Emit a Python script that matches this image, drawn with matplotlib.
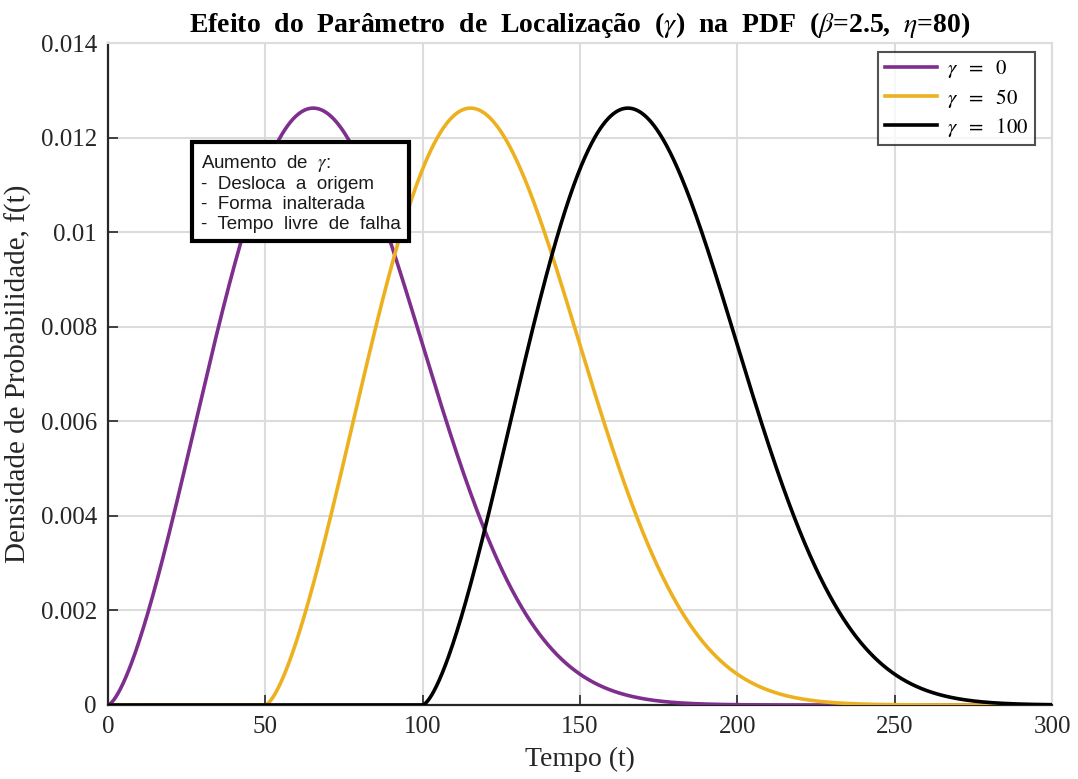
import numpy as np
import matplotlib
matplotlib.use("Agg")
import matplotlib.pyplot as plt

# Weibull parameters
beta = 2.5
eta = 80
gammas = [0, 50, 100]
colors = ['#7E2F8E', '#EDB120', '#000000']

t = np.linspace(0, 300, 3001)


def weibull_pdf(t, beta, eta, gamma):
    f = np.zeros_like(t)
    m = t >= gamma
    z = (t[m] - gamma) / eta
    f[m] = (beta / eta) * z ** (beta - 1) * np.exp(-z ** beta)
    return f


plt.rcParams['font.family'] = ['Liberation Serif', 'DejaVu Serif']
plt.rcParams['mathtext.fontset'] = 'stix'

fig = plt.figure(figsize=(10.78, 7.79), dpi=100)
ax = fig.add_axes([0.1002, 0.095, 0.8757, 0.8498])

for g, c in zip(gammas, colors):
    ax.plot(t, weibull_pdf(t, beta, eta, g), color=c, lw=2.6,
            label=r'$\gamma\ \ =\ \ %d$' % g, zorder=3)

ax.set_xlim(0, 300)
ax.set_ylim(0, 0.014)
ax.set_xticks(np.arange(0, 301, 50))
ax.set_yticks(np.arange(0, 0.0141, 0.002))
ax.set_yticklabels(['0', '0.002', '0.004', '0.006', '0.008', '0.01', '0.012', '0.014'])

ax.grid(True, color='#dcdcdc', lw=1.5, zorder=0)
ax.tick_params(direction='in', length=7, width=1.2, labelsize=18,
               colors='#262626', pad=8, top=False, right=False)
for s in ['left', 'bottom']:
    ax.spines[s].set_color('#262626')
    ax.spines[s].set_linewidth(1.6)
for s in ['top', 'right']:
    ax.spines[s].set_color('#dcdcdc')
    ax.spines[s].set_linewidth(1.5)

ax.set_xlabel('Tempo (t)', fontsize=20, color='#262626', labelpad=6)
ax.set_ylabel('Densidade de Probabilidade, f(t)', fontsize=21,
              color='#262626', labelpad=6)
ax.set_title(r'Efeito  do  Parâmetro  de  Localização  ($\gamma$)  na  PDF  ($\beta$=2.5,  $\eta$=80)',
             fontsize=20, fontweight='bold', pad=8)

leg = ax.legend(loc='upper right', bbox_to_anchor=(0.982, 0.9864), fontsize=15,
                frameon=True, fancybox=False, edgecolor='#262626',
                borderaxespad=0, handlelength=2.5, labelspacing=0.3,
                borderpad=0.3, handletextpad=0.5)
leg.get_frame().set_linewidth(1.5)

ax.text(0.098, 0.834,
        'Aumento  de  $\\gamma$:\n-  Desloca  a  origem\n-  Forma  inalterada\n-  Tempo  livre  de  falha',
        transform=ax.transAxes, fontsize=13.5, family=['Liberation Sans', 'DejaVu Sans'],
        va='top', ha='left', linespacing=1.2, color='#1a1a1a', zorder=5,
        bbox=dict(boxstyle='square,pad=0.45', fc='white', ec='black', lw=3))

fig.savefig('out.png', dpi=100)
